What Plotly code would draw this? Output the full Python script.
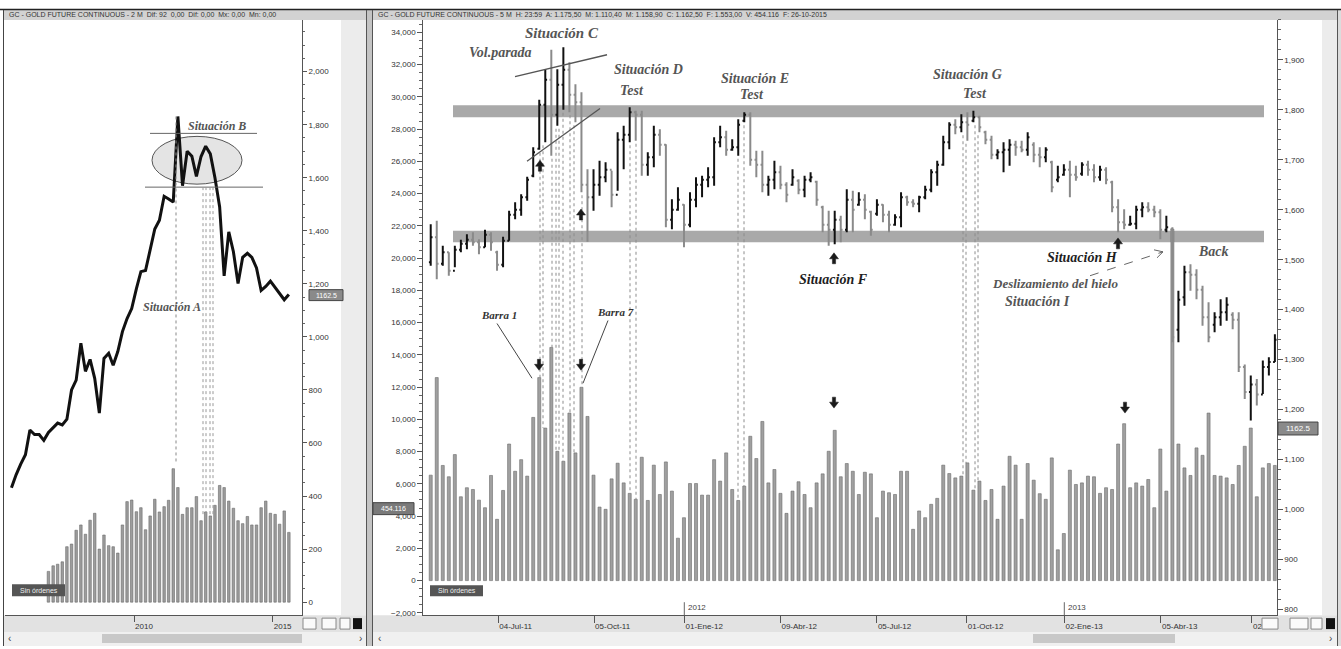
import plotly.graph_objects as go
import pandas as pd

W, H = 1341, 649

# ---- left panel: GC continuous, 2-month bars (close line + volume) ----
left_dates = pd.date_range("2005-08-01", periods=61, freq="2MS")
left_close = [431, 480, 520, 556, 649, 632, 632, 610, 640, 660,
              675, 668, 690, 800, 837, 976, 870, 915, 844, 713,
              919, 938, 893, 945, 1020, 1069, 1107, 1182, 1246, 1250,
              1332, 1407, 1440, 1530, 1520, 1508, 1831, 1570, 1700, 1681,
              1605, 1680, 1719, 1690, 1600, 1490, 1230, 1396, 1321, 1201,
              1300, 1315, 1300, 1260, 1175, 1190, 1210, 1185, 1165, 1140,
              1160]
# volume starts with the 9th bar
left_volume = [116, 137, 143, 152, 209, 219, 271, 291, 256, 309,
               335, 200, 253, 213, 209, 185, 291, 379, 385, 341,
               356, 273, 325, 388, 340, 360, 384, 503, 432, 331,
               356, 356, 398, 307, 340, 325, 365, 440, 432, 381,
               354, 307, 296, 323, 291, 291, 356, 381, 335, 331,
               294, 344, 263]
left_tickvals = ["2010-01-01", "2015-01-01"]
left_ticktext = ["2010", "2015"]

# ---- right panel: OHLC bars + volume ----
right_open = [1495, 1545, 1492, 1515, 1478, 1520, 1532, 1540, 1535, 1525,
              1550, 1515, 1490, 1538, 1590, 1600, 1625, 1668, 1722, 1810,
              1860, 1790, 1850, 1880, 1830, 1815, 1650, 1625, 1650, 1665,
              1680, 1630, 1740, 1750, 1795, 1790, 1690, 1705, 1750, 1730,
              1580, 1600, 1610, 1570, 1620, 1650, 1660, 1665, 1735, 1745,
              1720, 1725, 1778, 1790, 1700, 1690, 1650, 1660, 1675, 1650,
              1650, 1658, 1640, 1660, 1656, 1605, 1570, 1560, 1580, 1560,
              1620, 1610, 1620, 1596, 1592, 1610, 1590, 1570, 1585, 1625,
              1615, 1612, 1625, 1640, 1675, 1690, 1735, 1770, 1765, 1775,
              1778, 1785, 1755, 1740, 1710, 1715, 1720, 1730, 1725, 1720,
              1730, 1710, 1705, 1695, 1660, 1670, 1680, 1670, 1672, 1690,
              1680, 1665, 1680, 1655, 1605, 1575, 1570, 1572, 1600, 1605,
              1600, 1595, 1560, 1561, 1360, 1425, 1475, 1470, 1440, 1385,
              1370, 1385, 1395, 1390, 1380, 1285, 1235, 1250, 1230, 1285,
              1295]
right_high = [1571, 1578, 1528, 1515, 1528, 1540, 1551, 1555, 1541, 1560,
              1555, 1518, 1546, 1598, 1615, 1631, 1666, 1725, 1820, 1881,
              1920, 1881, 1925, 1895, 1851, 1835, 1681, 1681, 1698, 1695,
              1678, 1755, 1768, 1805, 1798, 1798, 1715, 1768, 1761, 1731,
              1621, 1645, 1611, 1635, 1665, 1668, 1685, 1745, 1768, 1758,
              1741, 1781, 1795, 1795, 1718, 1718, 1668, 1698, 1688, 1655,
              1681, 1661, 1668, 1675, 1658, 1608, 1598, 1598, 1588, 1641,
              1638, 1635, 1631, 1598, 1621, 1611, 1598, 1591, 1635, 1628,
              1621, 1628, 1648, 1681, 1698, 1748, 1775, 1781, 1791, 1795,
              1798, 1788, 1758, 1748, 1721, 1735, 1741, 1738, 1738, 1755,
              1735, 1725, 1725, 1698, 1688, 1691, 1698, 1688, 1695, 1698,
              1691, 1688, 1685, 1658, 1621, 1601, 1588, 1608, 1615, 1615,
              1608, 1601, 1588, 1565, 1438, 1488, 1491, 1481, 1448, 1415,
              1395, 1421, 1425, 1395, 1395, 1290, 1268, 1261, 1298, 1305,
              1351]
right_low = [1488, 1461, 1488, 1468, 1485, 1515, 1521, 1528, 1511, 1525,
             1518, 1478, 1485, 1538, 1581, 1588, 1618, 1665, 1720, 1735,
             1708, 1768, 1800, 1795, 1775, 1635, 1536, 1598, 1628, 1655,
             1605, 1638, 1681, 1735, 1738, 1668, 1668, 1685, 1708, 1565,
             1561, 1598, 1525, 1565, 1605, 1625, 1645, 1648, 1725, 1708,
             1718, 1708, 1775, 1688, 1665, 1635, 1628, 1641, 1641, 1615,
             1648, 1631, 1625, 1655, 1608, 1555, 1528, 1531, 1535, 1555,
             1555, 1608, 1581, 1548, 1588, 1575, 1555, 1568, 1565, 1608,
             1605, 1595, 1621, 1635, 1648, 1688, 1721, 1751, 1755, 1738,
             1775, 1755, 1731, 1701, 1701, 1675, 1688, 1708, 1715, 1708,
             1695, 1685, 1695, 1635, 1655, 1668, 1625, 1658, 1668, 1668,
             1655, 1658, 1651, 1595, 1555, 1561, 1568, 1561, 1585, 1595,
             1585, 1541, 1555, 1335, 1335, 1408, 1438, 1421, 1368, 1335,
             1355, 1368, 1378, 1361, 1275, 1221, 1178, 1208, 1231, 1268,
             1295]
right_close = [1545, 1492, 1515, 1478, 1520, 1532, 1540, 1535, 1525, 1550,
               1535, 1490, 1538, 1590, 1600, 1625, 1660, 1715, 1810, 1860,
               1790, 1850, 1880, 1830, 1815, 1650, 1625, 1650, 1665, 1680,
               1630, 1740, 1750, 1795, 1790, 1690, 1705, 1750, 1730, 1580,
               1600, 1620, 1570, 1620, 1650, 1660, 1665, 1735, 1745, 1720,
               1725, 1770, 1790, 1700, 1690, 1650, 1660, 1675, 1650, 1630,
               1665, 1640, 1660, 1665, 1620, 1570, 1560, 1580, 1560, 1620,
               1600, 1620, 1600, 1560, 1610, 1590, 1570, 1585, 1625, 1615,
               1612, 1625, 1640, 1675, 1690, 1735, 1770, 1765, 1775, 1770,
               1785, 1765, 1740, 1710, 1715, 1720, 1730, 1725, 1720, 1745,
               1710, 1705, 1720, 1645, 1665, 1680, 1670, 1665, 1690, 1680,
               1665, 1680, 1660, 1605, 1575, 1570, 1572, 1600, 1605, 1600,
               1595, 1560, 1565, 1345, 1420, 1475, 1470, 1440, 1385, 1345,
               1385, 1395, 1410, 1380, 1285, 1235, 1250, 1230, 1285, 1295,
               1340]
right_volume = [6540, 12590, 7140, 6440, 7815, 5200, 5760, 5650, 4990, 4520,
                6520, 3800, 5590, 8470, 6780, 7500, 6480, 10120, 12590, 9460,
                14460, 8020, 7400, 10390, 7920, 11990, 10180, 6540, 4560, 4420,
                6310, 7280, 6060, 5410, 5040, 7650, 4970, 7160, 5340, 7360,
                5550, 2630, 3900, 6020, 6020, 5300, 5300, 7500, 6170, 7920,
                5650, 4970, 5860, 8950, 7570, 9870, 6060, 6890, 5410, 4170,
                5550, 6130, 5340, 4520, 6060, 6620, 8020, 9320, 6440, 7260,
                6780, 5340, 6720, 6620, 3900, 5550, 5450, 5340, 6780, 6780,
                3180, 4320, 3900, 4730, 5100, 7160, 6640, 6370, 6480, 7300,
                5610, 6170, 4970, 5650, 3800, 5860, 7710, 7160, 3800, 7260,
                6230, 5390, 5040, 7610, 1910, 2920, 6850, 5960, 6060, 6480,
                6440, 5410, 5760, 5650, 8470, 9730, 5760, 6060, 5860, 6270,
                4520, 8160, 5550, 21800, 8470, 6990, 6520, 8230, 7770, 10390,
                6520, 6480, 6370, 5960, 7140, 8330, 9460, 5200, 6990, 7260,
                7140]
right_tickvals = [11.2, 27.1, 42.1, 58.0, 74.0, 88.9, 105.1, 121.1, 136.2]
right_ticktext = ["04-Jul-11", "05-Oct-11", "01-Ene-12", "09-Abr-12", "05-Jul-12",
                  "01-Oct-12", "02-Ene-13", "05-Abr-13", "02-J"]
bar_index = list(range(len(right_close)))

# axis ranges (tuned to the screenshot's pixel layout)
PLOT_TOP, PLOT_BOT = 20, 618
XR2 = [-1.23, 140.3]
VOL_R = [-2142, 34772]
PRICE_R = [788.6, 1979.9]


def X(x):
    return x / W


def Y(y):
    return 1 - y / H


def price_py(p):
    return PLOT_TOP + (PRICE_R[1] - p) * (PLOT_BOT - PLOT_TOP) / (PRICE_R[1] - PRICE_R[0])


def vol_py(v):
    return PLOT_TOP + (VOL_R[1] - v) * (PLOT_BOT - PLOT_TOP) / (VOL_R[1] - VOL_R[0])


fig = go.Figure()

fig.add_trace(go.Bar(
    x=left_dates[8:], y=left_volume, xaxis="x", yaxis="y",
    width=33 * 86400000,
    marker=dict(color="#9d9d9d", line=dict(color="#6a6a6a", width=0.6)),
    hoverinfo="skip",
))
fig.add_trace(go.Scatter(
    x=left_dates, y=left_close, xaxis="x", yaxis="y", mode="lines",
    line=dict(color="#111111", width=3), hoverinfo="skip",
))
fig.add_trace(go.Bar(
    x=bar_index, y=right_volume, xaxis="x2", yaxis="y2", width=0.5,
    marker=dict(color="#a0a0a0", line=dict(color="#6a6a6a", width=0.6)),
    hoverinfo="skip",
))
fig.add_trace(go.Ohlc(
    x=bar_index, open=right_open, high=right_high, low=right_low, close=right_close,
    xaxis="x2", yaxis="y3", tickwidth=0.3,
    increasing=dict(line=dict(color="#111111", width=2)),
    decreasing=dict(line=dict(color="#8a8a8a", width=2)),
    hoverinfo="skip",
))

shapes = []


def rect(x0, y0, x1, y1, fill, line="rgba(0,0,0,0)", lw=0, layer="below"):
    shapes.append(dict(type="rect", xref="paper", yref="paper",
                       x0=X(x0), x1=X(x1), y0=Y(y1), y1=Y(y0),
                       fillcolor=fill, line=dict(color=line, width=lw), layer=layer))


def seg(x0, y0, x1, y1, color="#555", width=1, dash="solid", layer="above"):
    shapes.append(dict(type="line", xref="paper", yref="paper",
                       x0=X(x0), x1=X(x1), y0=Y(y0), y1=Y(y1),
                       line=dict(color=color, width=width, dash=dash), layer=layer))


def arrow(cx, tip, up=True):
    s = 1 if up else -1
    pts = [(cx, tip), (cx + 4.5, tip + 6 * s), (cx + 1.6, tip + 6 * s), (cx + 1.6, tip + 11 * s),
           (cx - 1.6, tip + 11 * s), (cx - 1.6, tip + 6 * s), (cx - 4.5, tip + 6 * s)]
    path = "M " + " L ".join(f"{X(a):.5f},{Y(b):.5f}" for a, b in pts) + " Z"
    shapes.append(dict(type="path", xref="paper", yref="paper", path=path,
                       fillcolor="#1a1a1a", line=dict(color="#1a1a1a", width=0.5), layer="above"))


# window chrome
seg(0, 9.5, W, 9.5, "#222", 1.5)
rect(3, 10, 367, 20, "#d2d2d2")
rect(372, 10, 1338, 20, "#d2d2d2")
rect(366, 10, 372, H, "#c4c4c4")
seg(3.5, 10, 3.5, H, "#444", 1)
seg(366.5, 10, 366.5, H, "#555", 1)
seg(372.5, 10, 372.5, H, "#555", 1)
seg(1337.5, 10, 1337.5, H, "#555", 1)
rect(1338, 10, W, H, "#dcdcdc")
rect(341, 20, 366, 618, "#ececec")
rect(1322, 20, 1337, 618, "#ececec")
rect(4, 618, 366, 635, "#e2e2e2")
rect(373, 618, 1337, 635, "#e2e2e2")
rect(4, 635, 366, H, "#f0f0f0")
rect(373, 635, 1337, H, "#f0f0f0")
rect(102, 637, 302, 646, "#c8c8c8")
rect(1033, 637, 1175, 646, "#c8c8c8")
for x0, x1 in [(303, 316), (322, 336), (340, 350)]:
    rect(x0, 621, x1, 632, "#fafafa", "#888", 1, "above")
rect(353, 621, 362, 632, "#111", layer="above")
for x0, x1 in [(1262, 1278), (1290, 1308), (1311, 1322)]:
    rect(x0, 621, x1, 632, "#fafafa", "#888", 1, "above")
rect(1326, 621, 1335, 632, "#111", layer="above")

# left panel drawings
shapes.append(dict(type="circle", xref="paper", yref="paper",
                   x0=X(152), x1=X(242), y0=Y(185), y1=Y(137),
                   fillcolor="#e4e4e4", line=dict(color="#555", width=1), layer="below"))
seg(150, 134, 257, 134, "#666", 1)
seg(145, 188, 263, 188, "#666", 1)
seg(176, 117, 176, 466, "#888", 1, "dot")
for x in [203, 206, 210, 213]:
    seg(x, 188, x, 517, "#999", 1, "dot")

# right panel: support / resistance bands
for lo, hi in [(1785, 1809), (1535, 1558)]:
    shapes.append(dict(type="rect", xref="paper", yref="y3", x0=X(453), x1=X(1264),
                       y0=lo, y1=hi, fillcolor="#a9a9a9", line=dict(width=0), layer="below"))

# dotted verticals linking price bars to their volume bars
for x in [540, 543, 552, 556, 559, 563, 570, 574, 582, 630, 636, 738, 744, 963, 966, 975, 978]:
    k = round((x - 430.7) / 6.03)
    seg(x, price_py(right_low[k]) + 3, x, vol_py(right_volume[k]), "#8c8c8c", 1, "dot")

# trend lines and leader lines
seg(515, 77, 607, 55, "#555", 1.3)
seg(527, 162, 600, 109, "#555", 1.3)
seg(497, 325, 532, 380, "#444", 1)
seg(608, 322, 583, 385, "#444", 1)
seg(1090, 277, 1163, 253, "#666", 1, "dash")
seg(1163, 253, 1154, 251, "#666", 1)
seg(1163, 253, 1157, 259, "#666", 1)
seg(684.3, 605, 684.3, 618, "#666", 1)
seg(1064.3, 605, 1064.3, 618, "#666", 1)

for cx, tip in [(540, 161), (581, 210), (834, 254), (1118, 239)]:
    arrow(cx, tip, up=True)
for cx, tip in [(539, 372), (581, 372), (834, 410), (1125, 415)]:
    arrow(cx, tip, up=False)

# labels boxes
rect(12, 587, 65, 599, "#555", layer="above")
rect(430, 588, 483, 599, "#555", layer="above")
rect(373, 505, 414, 517, "#7a7a7a", "#444", 1, "above")
rect(1278, 424, 1318, 437, "#8a8a8a", "#444", 1, "above")
rect(309, 291, 343, 302, "#8a8a8a", "#444", 1, "above")

annotations = []


def note(text, x, y, size=14, color="#555", xanchor="center", family="Liberation Serif"):
    annotations.append(dict(text=text, x=X(x), y=Y(y), xref="paper", yref="paper",
                            xanchor=xanchor, yanchor="middle", showarrow=False,
                            font=dict(family=family, size=size, color=color)))


def si(text):
    return f"<b><i>{text}</i></b>"


note(si("Situación C"), 562, 33, 15)
note(si("Vol.parada"), 500, 53, 14)
note(si("Situación D"), 648, 70, 14)
note(si("Test"), 632, 91, 14)
note(si("Situación E"), 755, 79, 14)
note(si("Test"), 752, 95, 14)
note(si("Situación F"), 834, 281, 14, "#1e1e1e")
note(si("Situación G"), 967, 75, 14)
note(si("Test"), 975, 94, 14)
note(si("Situación H"), 1082, 259, 14, "#1e1e1e")
note(si("Deslizamiento del hielo"), 1055, 285, 13)
note(si("Situación I"), 1037, 303, 14)
note(si("Back"), 1213, 253, 14)
note(si("Barra 1"), 499, 316, 11, "#333")
note(si("Barra 7"), 615, 313, 11, "#333")
note(si("Situación B"), 217, 127, 12)
note(si("Situación A"), 172, 308, 12)

sans = "Liberation Sans"
note("GC - GOLD FUTURE CONTINUOUS - 2 M  Dif: 92  0,00  Dif: 0,00  Mx: 0,00  Mn: 0,00",
     7, 15, 7, "#333", "left", sans)
note("GC - GOLD FUTURE CONTINUOUS - 5 M  H: 23:59  A: 1.175,50  M: 1.110,40  M: 1.158,90  "
     "C: 1.162,50  F: 1.553,00  V: 454.116  F: 26-10-2015", 376, 15, 7, "#333", "left", sans)
note("Sin órdenes", 38.5, 593, 7, "#eee", "center", sans)
note("Sin órdenes", 456.5, 593.5, 7, "#eee", "center", sans)
note("454.116", 393.5, 511, 7, "#fff", "center", sans)
note("1162.5", 1298, 430.5, 8, "#fff", "center", sans)
note("1162.5", 326, 296.5, 7, "#fff", "center", sans)
note("2012", 686, 610, 8, "#444", "left", sans)
note("2013", 1066, 610, 8, "#444", "left", sans)
note("‹", 9, 641, 10, "#444", "center", sans)
note("›", 360, 641, 10, "#444", "center", sans)
note("‹", 379, 641, 10, "#444", "center", sans)
note("›", 1330, 641, 10, "#444", "center", sans)

tick_font = dict(family=sans, size=8, color="#333")
ydom = [1 - PLOT_BOT / H, 1 - PLOT_TOP / H]
common = dict(showgrid=False, zeroline=False, tickfont=tick_font, ticks="outside",
              tickcolor="#555", showline=True, linecolor="#555", linewidth=1)

fig.update_layout(
    width=W, height=H, margin=dict(l=0, r=0, t=0, b=0),
    paper_bgcolor="white", plot_bgcolor="rgba(0,0,0,0)",
    showlegend=False, separators=".,",
    shapes=shapes, annotations=annotations,
    xaxis=dict(domain=[5 / W, 302 / W], range=["2005-05-08", "2016-01-21"], type="date",
               anchor="y", tickvals=left_tickvals, ticktext=left_ticktext, ticklen=6,
               ticklabelposition="outside right", ticklabelstandoff=3, **common),
    yaxis=dict(domain=ydom, range=[-49, 2195], anchor="x", side="right",
               tick0=0, dtick=200, tickformat=",d", ticklen=4,
               minor=dict(dtick=50, ticks="outside", ticklen=2, tickcolor="#666"), **common),
    xaxis2=dict(domain=[423.3 / W, 1276.7 / W], range=XR2, anchor="y2",
                tickvals=right_tickvals, ticktext=right_ticktext, ticklen=7,
                ticklabelposition="outside right", ticklabelstandoff=3,
                rangeslider=dict(visible=False), **common),
    yaxis2=dict(domain=ydom, range=VOL_R, anchor="x2", side="left",
                tick0=0, dtick=2000, tickformat=",d", ticklen=5,
                minor=dict(dtick=500, ticks="outside", ticklen=3, tickcolor="#666"), **common),
    yaxis3=dict(domain=ydom, range=PRICE_R, anchor="x2", side="right", overlaying="y2",
                tick0=0, dtick=100, tickformat=",d", ticklen=5,
                minor=dict(dtick=20, ticks="outside", ticklen=3, tickcolor="#666"), **common),
)

# the page's default body margin would shift the figure by 8px
fig.write_html("out.html", config={"displayModeBar": False},
               post_script="document.body.style.margin = '0px';")
